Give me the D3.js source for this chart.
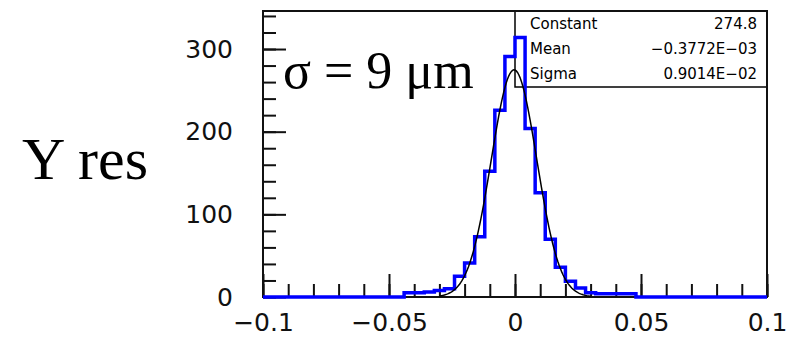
<!DOCTYPE html>
<html>
<head>
<meta charset="utf-8">
<script src="https://cdn.jsdelivr.net/npm/d3@7"></script>
<style>
  body { margin: 0; background: #fff; }
  .tick text { font-family: "DejaVu Sans", sans-serif; font-size: 25px; fill: #111; }
</style>
</head>
<body>
<div id="chart"></div>
<script>
// histogram of Y residuals: 50 bins of width 0.004 on [-0.1, 0.1]
var binStart = -0.1, binWidth = 0.004;
var binCounts = [
    0, 0, 0, 0, 0, 0, 0, 0, 0, 0,
    0, 0, 0, 0, 5, 5, 6, 8, 10, 25,
    41, 73, 152, 226, 291, 314, 204, 126, 70, 36,
    19, 11, 5, 4, 4, 4, 4, 0, 0, 0,
    0, 0, 0, 0, 0, 0, 0, 0, 0, 0
];

// gaussian fit results (stats box)
var fitNames = ["Constant", "Mean", "Sigma"];
var fitValues = ["274.8", "\u22120.3772E\u221203", "0.9014E\u221202"];
var fitConstant = 274.8, fitMean = -0.3772e-3, fitSigma = 0.9014e-2;
var fitRange = [-0.03, 0.03];

var xMajor = [-0.1, -0.05, 0, 0.05, 0.1];
var xMinor = d3.range(-0.1, 0.1001, 0.01);
var yMajor = [0, 100, 200, 300];
var yMinor = d3.range(0, 341, 20);

var width = 788, height = 343;
var margin = { top: 11, right: 21, bottom: 46, left: 263 };

var svg = d3.select("#chart").append("svg")
    .attr("width", width)
    .attr("height", height);

var x = d3.scaleLinear()
    .domain([-0.1, 0.1])
    .range([margin.left, width - margin.right]);

var y = d3.scaleLinear()
    .domain([0, 346])
    .range([height - margin.bottom, margin.top]);

// big labels
svg.append("text")
    .attr("x", 22)
    .attr("y", 179)
    .style("font-family", "'Liberation Serif', serif")
    .style("font-size", "60px")
    .text("Y res");

svg.append("text")
    .attr("x", 283)
    .attr("y", 88)
    .style("font-family", "'Liberation Serif', serif")
    .style("font-size", "52px")
    .text("\u03c3 = 9 \u03bcm");

// stats box
var box = svg.append("g");
box.append("rect")
    .attr("x", 515)
    .attr("y", margin.top)
    .attr("width", width - margin.right - 515)
    .attr("height", 87 - margin.top)
    .style("fill", "none")
    .style("stroke", "#000")
    .style("stroke-width", 1.5);

box.selectAll(".fit-name")
    .data(fitNames)
    .enter().append("text")
    .attr("class", "fit-name")
    .attr("x", 530)
    .attr("y", function(d, i) { return 24 + i * 25; })
    .attr("dy", "0.35em")
    .style("font-family", "'DejaVu Sans', sans-serif")
    .style("font-size", "15px")
    .text(function(d) { return d; });

box.selectAll(".fit-value")
    .data(fitValues)
    .enter().append("text")
    .attr("class", "fit-value")
    .attr("x", 757)
    .attr("y", function(d, i) { return 24 + i * 25; })
    .attr("dy", "0.35em")
    .attr("text-anchor", "end")
    .style("font-family", "'DejaVu Sans', sans-serif")
    .style("font-size", "15px")
    .text(function(d) { return d; });

// axes, ticks pointing inside the frame
svg.append("g")
    .attr("transform", "translate(" + margin.left + ",0)")
    .call(d3.axisLeft(y).tickValues(yMajor).tickSize(-23).tickPadding(30).tickFormat(d3.format("d")));
svg.append("g")
    .attr("transform", "translate(" + margin.left + ",0)")
    .call(d3.axisLeft(y).tickValues(yMinor).tickSize(-13).tickFormat(""));

svg.append("g")
    .attr("transform", "translate(0," + (height - margin.bottom) + ")")
    .call(d3.axisBottom(x).tickValues(xMajor).tickSize(-23).tickPadding(16)
        .tickFormat(function(d) { return d === 0 ? "0" : String(+d.toFixed(2)).replace("-", "\u2212"); }));
svg.append("g")
    .attr("transform", "translate(0," + (height - margin.bottom) + ")")
    .call(d3.axisBottom(x).tickValues(xMinor).tickSize(-13).tickFormat(""));

svg.selectAll(".domain").remove();
svg.selectAll(".tick line").style("stroke", "#111").style("stroke-width", 2);

// frame
svg.append("rect")
    .attr("x", margin.left)
    .attr("y", margin.top)
    .attr("width", width - margin.left - margin.right)
    .attr("height", height - margin.top - margin.bottom)
    .style("fill", "none")
    .style("stroke", "#111")
    .style("stroke-width", 2);

// histogram
var histPoints = binCounts.map(function(c, i) { return [binStart + i * binWidth, c]; });
histPoints.push([binStart + binCounts.length * binWidth, binCounts[binCounts.length - 1]]);

var histLine = d3.line()
    .x(function(d) { return x(d[0]); })
    .y(function(d) { return y(d[1]); })
    .curve(d3.curveStepAfter);

svg.append("path")
    .datum(histPoints)
    .attr("d", histLine)
    .style("fill", "none")
    .style("stroke", "#0000ff")
    .style("stroke-width", 3.5);

// fitted gaussian
var gaus = function(v) {
    var t = (v - fitMean) / fitSigma;
    return fitConstant * Math.exp(-0.5 * t * t);
};
var fitPoints = d3.range(fitRange[0], fitRange[1] + 1e-9, 0.0005).map(function(v) { return [v, gaus(v)]; });

svg.append("path")
    .datum(fitPoints)
    .attr("d", d3.line()
        .x(function(d) { return x(d[0]); })
        .y(function(d) { return y(d[1]); }))
    .style("fill", "none")
    .style("stroke", "#000")
    .style("stroke-width", 1.5);
</script>
</body>
</html>
